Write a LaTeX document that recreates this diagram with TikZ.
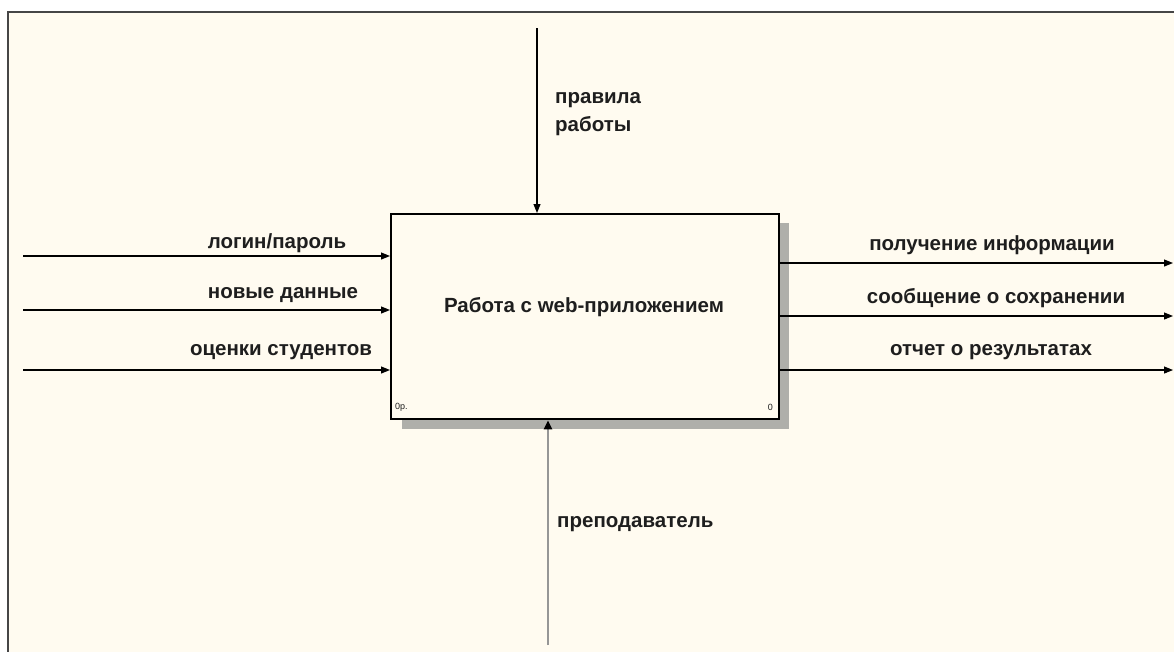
\documentclass[tikz,border=0pt]{standalone}
\usepackage{fontspec}
\setmainfont{Liberation Sans}
\usetikzlibrary{arrows.meta}
\definecolor{cream}{RGB}{255,251,240}
\definecolor{framec}{RGB}{70,70,70}
\definecolor{shadowc}{RGB}{175,175,170}
\definecolor{mechc}{RGB}{150,150,150}
\definecolor{textc}{RGB}{30,30,30}
\tikzset{
  arr/.style={draw=black, line width=1.1pt, -{Triangle[length=9pt,width=7pt]}},
  mecharr/.style={draw=mechc, line width=2.4pt, -{Triangle[length=9pt,width=8pt,fill=black,color=black]}},
  lbl/.style={font=\fontsize{20.5}{24}\selectfont\bfseries, text=textc, inner sep=0pt},
  box/.style={draw=black, line width=2.4pt, fill=cream, minimum width=388pt, minimum height=205pt, inner sep=0pt},
  small/.style={font=\fontsize{9}{10}\selectfont, text=textc, inner sep=0pt}
}
\begin{document}
\begin{tikzpicture}[x=1pt,y=-1pt]
\fill[white] (0,0) rectangle (1174,651);
\useasboundingbox (0,0) rectangle (1174,651);
\fill[cream] (8,12) rectangle (1180,660);
\draw[framec, line width=2pt] (8,660) -- (8,12) -- (1180,12);
% shadow
\fill[shadowc] (402,223) rectangle (789,429);
% main box
\node[box, anchor=north west] (A) at (390,213) {};
\node[lbl] (title) at (584,307) {Работа с web-приложением};
\node[small, anchor=west] (num1) at (395,407) {0р.};
\node[small, anchor=east] (num2) at (773,407) {0};
% inputs
\coordinate (in1) at (23,256);
\coordinate (in2) at (23,310);
\coordinate (in3) at (23,370);
\draw[arr] (in1) -- (in1 -| A.west);
\draw[arr] (in2) -- (in2 -| A.west);
\draw[arr] (in3) -- (in3 -| A.west);
\node[lbl] (li1) at (277,243) {логин/пароль};
\node[lbl] (li2) at (283,295) {новые данные};
\node[lbl] (li3) at (281,352) {оценки студентов};
% outputs
\coordinate (out1) at (1173,263);
\coordinate (out2) at (1173,316);
\coordinate (out3) at (1173,370);
\draw[arr] (out1 -| A.east) -- (out1);
\draw[arr] (out2 -| A.east) -- (out2);
\draw[arr] (out3 -| A.east) -- (out3);
\node[lbl] (lo1) at (992,245) {получение информации};
\node[lbl] (lo2) at (996,298) {сообщение о сохранении};
\node[lbl] (lo3) at (991,352) {отчет о результатах};
% control
\coordinate (ctl) at (537,28);
\draw[arr] (ctl) -- (ctl |- A.north);
\node[lbl, anchor=west, align=left, font=\fontsize{20.5}{28}\selectfont\bfseries] (lc) at (555,114) {правила\\работы};
% mechanism
\coordinate (mech) at (548,645);
\draw[mecharr] (mech) -- (mech |- A.south);
\node[lbl, anchor=west] (lm) at (557,524) {преподаватель};
\end{tikzpicture}
\end{document}
